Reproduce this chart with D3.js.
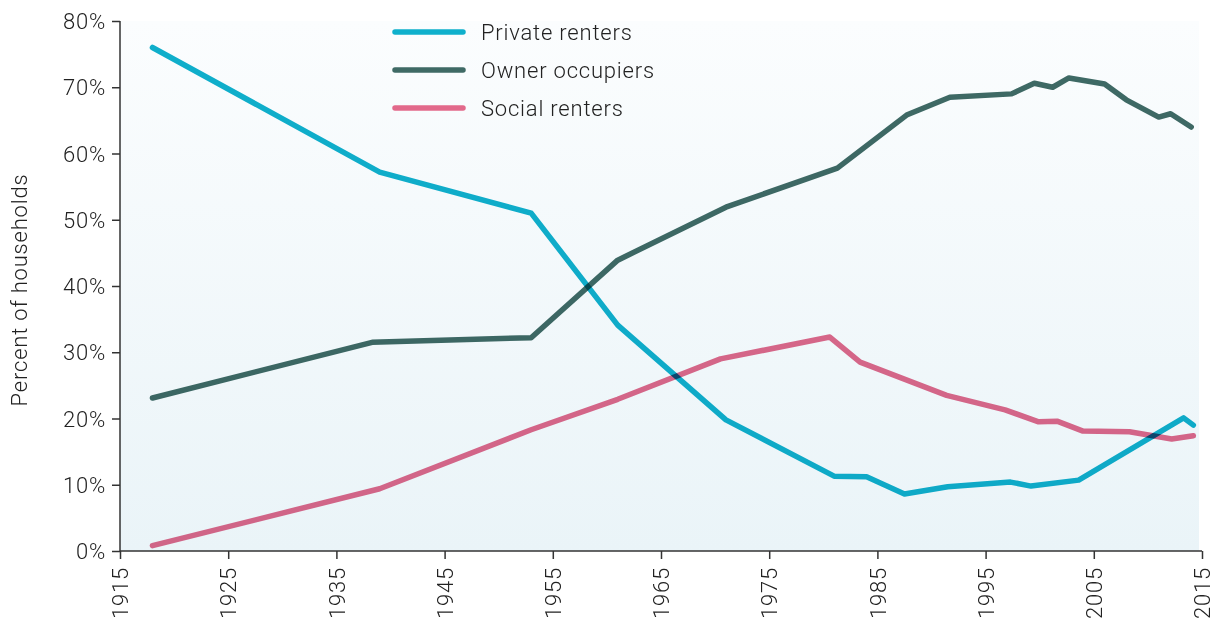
<!DOCTYPE html>
<html>
<head>
<meta charset="utf-8">
<script src="https://cdn.jsdelivr.net/npm/d3@7"></script>
<style>
  body { margin: 0; background: #fff; }
  text { font-family: Roboto, "Liberation Sans", sans-serif; font-weight: 300; fill: #222; letter-spacing: 0.8px; }
  .axis path, .axis line { stroke: #333; stroke-width: 1.5; }
  .series { fill: none; stroke-width: 5.5; stroke-linejoin: round; stroke-linecap: round; mix-blend-mode: multiply; }
</style>
</head>
<body>
<div class="chart"></div>
<script>
// data
var yTicks = [0, 10, 20, 30, 40, 50, 60, 70, 80];
var xTicks = [1915, 1925, 1935, 1945, 1955, 1965, 1975, 1985, 1995, 2005, 2015];

var privateYears  = [1918, 1939, 1953, 1961, 1971, 1981, 1984, 1987.5, 1991.5, 1997.3, 1999.2, 2003.6, 2013.3, 2014.2];
var privateValues = [76.0, 57.2, 51.0, 34.1, 19.8, 11.3, 11.2, 8.6, 9.7, 10.4, 9.8, 10.7, 20.1, 19.0];

var ownerYears  = [1918, 1938.3, 1953, 1961, 1971, 1981.3, 1987.7, 1991.7, 1997.4, 1999.5, 2001.2, 2002.7, 2006, 2008, 2011, 2012.1, 2014];
var ownerValues = [23.1, 31.5, 32.2, 43.9, 51.9, 57.8, 65.8, 68.5, 69.0, 70.6, 70.0, 71.4, 70.5, 68.1, 65.5, 66.0, 64.0];

var socialYears  = [1918, 1939, 1953, 1961, 1970.5, 1980.6, 1983.4, 1991.4, 1996.8, 1999.9, 2001.6, 2004, 2008.3, 2012.2, 2014.2];
var socialValues = [0.8, 9.4, 18.3, 22.9, 29.0, 32.3, 28.5, 23.5, 21.3, 19.5, 19.6, 18.1, 18.0, 16.9, 17.4];

var seriesNames  = ["Private renters", "Owner occupiers", "Social renters"];
var seriesColors = ["#0fb0cc", "#3f6a65", "#e2698b"];

var svgWidth = 1216, svgHeight = 628;
var margin = { top: 21, right: 11, bottom: 77, left: 120 };
var chartWidth = svgWidth - margin.left - margin.right;
var chartHeight = svgHeight - margin.top - margin.bottom;

var svg = d3.select(".chart").append("svg")
  .attr("width", svgWidth)
  .attr("height", svgHeight);

// background gradient
var grad = svg.append("defs").append("linearGradient")
  .attr("id", "bg").attr("x1", 0).attr("y1", 0).attr("x2", 0).attr("y2", 1);
grad.append("stop").attr("offset", "0%").attr("stop-color", "#fbfdfe");
grad.append("stop").attr("offset", "100%").attr("stop-color", "#eaf4f8");

var chartGroup = svg.append("g")
  .attr("transform", `translate(${margin.left}, ${margin.top})`);

var xScale = d3.scaleLinear().domain([1915, 2015]).range([0, chartWidth - 3]);
var yScale = d3.scaleLinear().domain([0, 80]).range([chartHeight, 0]);

chartGroup.append("rect")
  .attr("x", 0).attr("y", 0)
  .attr("width", xScale(2015) - 3)
  .attr("height", chartHeight)
  .attr("fill", "url(#bg)");

// axes
var yAxis = d3.axisLeft(yScale).tickValues(yTicks).tickSize(8).tickPadding(6)
  .tickFormat(d => d + "%");
var xAxis = d3.axisBottom(xScale).tickValues(xTicks).tickSize(8).tickFormat(d3.format("d"));

var yG = chartGroup.append("g").attr("class", "axis").call(yAxis);
yG.select(".domain").attr("d", `M0,${chartHeight}V0`);
yG.selectAll("text").style("font-size", "22px").attr("dy", "0.35em");

var xG = chartGroup.append("g").attr("class", "axis")
  .attr("transform", `translate(0, ${chartHeight})`).call(xAxis);
xG.select(".domain").attr("d", `M0,0H${xScale(2015)}`);
xG.selectAll("text")
  .style("font-size", "22px")
  .attr("text-anchor", "end")
  .attr("transform", "rotate(-90)")
  .attr("x", -16).attr("y", 0).attr("dy", "0.35em");

// y axis title
chartGroup.append("text")
  .attr("transform", "rotate(-90)")
  .attr("x", -chartHeight / 2 - 4)
  .attr("y", -margin.left + 27)
  .attr("text-anchor", "middle")
  .style("font-size", "22px")
  .text("Percent of households");

// lines
var line = d3.line().x(d => xScale(d[0])).y(d => yScale(d[1]));
var seriesData = [
  d3.zip(privateYears, privateValues),
  d3.zip(ownerYears, ownerValues),
  d3.zip(socialYears, socialValues)
];

chartGroup.selectAll(".series")
  .data(seriesData)
  .enter()
  .append("path")
  .attr("class", "series")
  .attr("d", line)
  .attr("stroke", (d, i) => seriesColors[i]);

// legend
var legend = svg.append("g").attr("transform", "translate(395, 32)");
seriesNames.forEach(function(name, i) {
  var row = legend.append("g").attr("transform", `translate(0, ${i * 38})`);
  row.append("line")
    .attr("x1", 0).attr("x2", 68)
    .attr("stroke", seriesColors[i])
    .attr("stroke-width", 5.5)
    .attr("stroke-linecap", "round");
  row.append("text")
    .attr("x", 86).attr("dy", "0.35em")
    .style("font-size", "22px")
    .text(name);
});
</script>
</body>
</html>
